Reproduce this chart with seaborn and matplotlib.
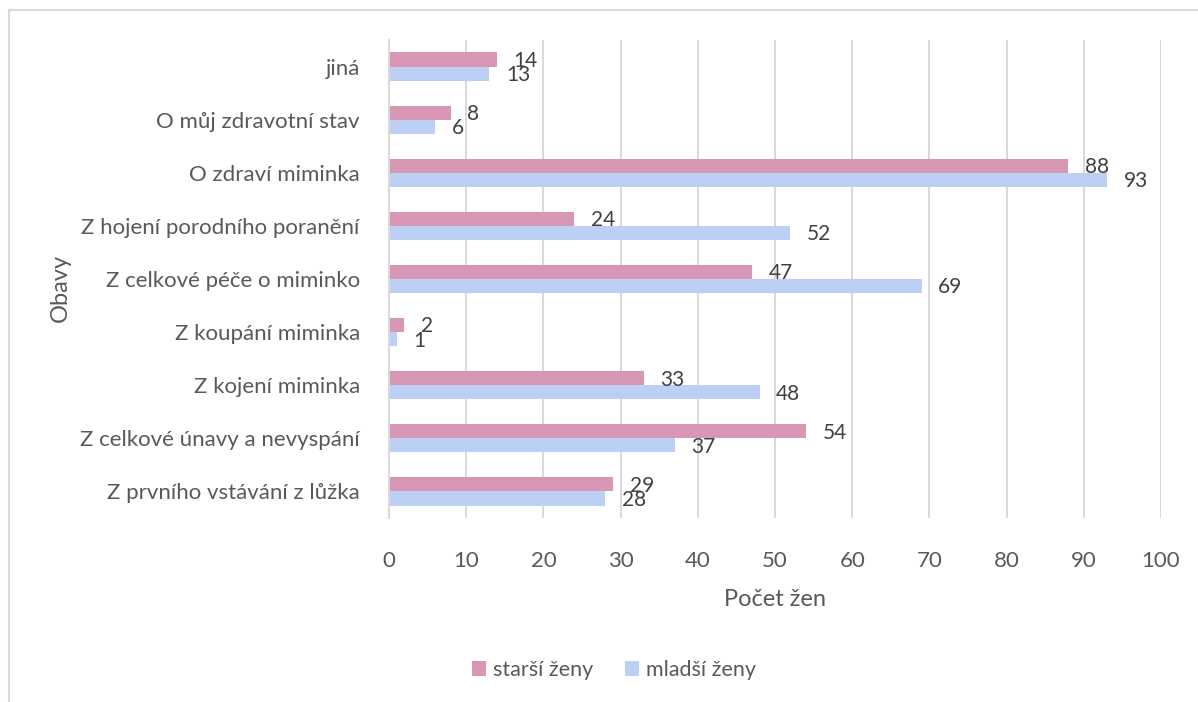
import matplotlib
matplotlib.use("Agg")
import matplotlib.pyplot as plt
from matplotlib.patches import Rectangle, Patch
import seaborn as sns
import pandas as pd

categories = [
    "jiná",
    "O můj zdravotní stav",
    "O zdraví miminka",
    "Z hojení porodního poranění",
    "Z celkové péče o miminko",
    "Z koupání miminka",
    "Z kojení miminka",
    "Z celkové únavy a nevyspání",
    "Z prvního vstávání z lůžka",
]
starsi = [14, 8, 88, 24, 47, 2, 33, 54, 29]
mladsi = [13, 6, 93, 52, 69, 1, 48, 37, 28]
series_names = ["starší ženy", "mladší ženy"]
x_ticks = list(range(0, 101, 10))

df = pd.DataFrame({
    "Obavy": categories * 2,
    "Počet žen": starsi + mladsi,
    "skupina": [series_names[0]] * len(categories) + [series_names[1]] * len(categories),
})

sns.set_theme(style="white")
plt.rcParams["font.family"] = ["Lato", "DejaVu Sans"]

colors = {"starší ženy": "#D898B5", "mladší ženy": "#BCCFF4"}
text_grey = "#595959"
grid_grey = "#D9D9D9"

fig = plt.figure(figsize=(11.98, 7.02), dpi=100)
ax = fig.add_axes([389 / 1198, 1 - 518 / 702, (1161 - 389) / 1198, (518 - 40) / 702])

sns.barplot(
    data=df, y="Obavy", x="Počet žen", hue="skupina",
    order=categories, hue_order=series_names, palette=colors,
    orient="h", width=0.53, dodge=True, ax=ax, legend=False,
    edgecolor="none", saturation=1,
)

ax.set_xlim(0, 100)
ax.set_xticks(x_ticks)
ax.set_axisbelow(True)
ax.xaxis.grid(True, color=grid_grey, linewidth=1.4)
ax.yaxis.grid(False)
for side in ["top", "right", "bottom"]:
    ax.spines[side].set_visible(False)
ax.spines["left"].set_color(grid_grey)
ax.spines["left"].set_linewidth(1.4)
ax.tick_params(axis="both", length=0, labelsize=16, labelcolor=text_grey)
ax.tick_params(axis="x", pad=24)
ax.tick_params(axis="y", pad=21)

ax.set_xlabel("Počet žen", fontsize=17, color=text_grey)
ax.set_ylabel("Obavy", fontsize=17, color=text_grey)
ax.xaxis.set_label_coords(0.5, (518 - 600) / 478)
ax.xaxis.label.set_va("center")
ax.yaxis.set_label_coords((60 - 389) / 772, (518 - 288) / 478)
ax.yaxis.label.set_va("center")

# value labels at the end of each bar
for container in ax.containers:
    for bar in container:
        w = bar.get_width()
        yc = bar.get_y() + bar.get_height() / 2
        ax.annotate(
            f"{w:g}", xy=(w, yc), xytext=(12, -1), textcoords="offset points",
            ha="left", va="center", fontsize=15, color="#404040",
        )

handles = [Patch(facecolor=colors[n], edgecolor="none") for n in series_names]
fig.legend(
    handles, series_names, loc="center", bbox_to_anchor=(614 / 1198, 1 - 670 / 702),
    ncol=2, frameon=False, fontsize=15.5, labelcolor=text_grey,
    handlelength=0.65, handleheight=0.65, handletextpad=0.3, columnspacing=1.5,
)

# chart-area border
fig.add_artist(Rectangle(
    (9 / 1198, -0.05), 1.0, 1 - 10 / 702 + 0.05, transform=fig.transFigure,
    fill=False, edgecolor=grid_grey, linewidth=1.5,
))

fig.savefig("out.png", dpi=100)
